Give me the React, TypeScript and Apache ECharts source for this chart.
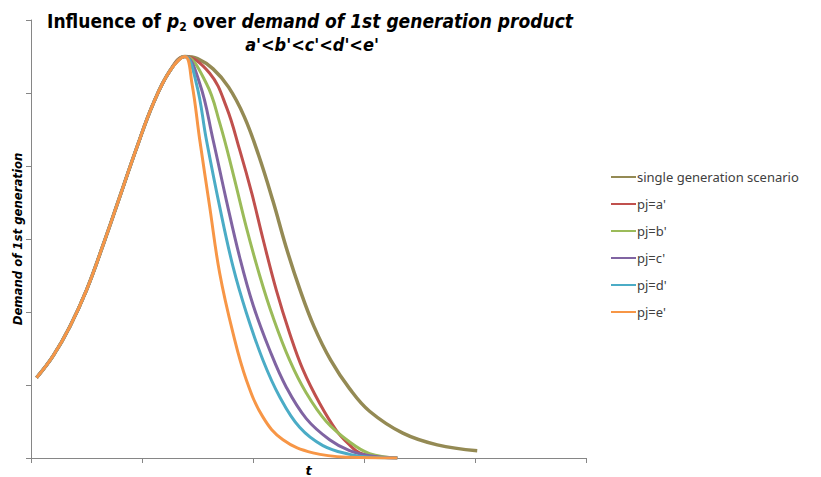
import React, { useEffect, useRef } from "react";
import * as echarts from "echarts";

const seriesNames = [
  "single generation scenario",
  "pj=a'",
  "pj=b'",
  "pj=c'",
  "pj=d'",
  "pj=e'",
];
const seriesColors = ["#948A54", "#C0504D", "#9BBB59", "#8064A2", "#4BACC6", "#F79646"];

// shared rising part (t, demand)
const rising: number[][] = [
  [0.05, 1.1], [0.2, 1.4], [0.35, 1.8], [0.5, 2.3], [0.65, 2.92], [0.8, 3.58],
  [0.95, 4.24], [1.1, 4.85], [1.25, 5.3], [1.387, 5.5],
];

const fallSingle: number[][] = [
  [1.5, 5.47], [1.64, 5.33], [1.78, 5.08], [1.92, 4.68], [2.05, 4.15], [2.18, 3.52],
  [2.3, 2.88], [2.42, 2.32], [2.55, 1.8], [2.7, 1.34], [2.87, 0.95], [3.05, 0.64],
  [3.35, 0.34], [3.66, 0.18], [4.02, 0.1],
];
const fallA: number[][] = [
  [1.61, 5.27], [1.76, 4.81], [1.88, 4.22], [1.99, 3.62], [2.09, 3.0], [2.21, 2.3],
  [2.33, 1.71], [2.45, 1.21], [2.6, 0.75], [2.75, 0.38], [2.87, 0.18], [2.96, 0.07],
  [3.15, 0.01], [3.3, 0],
];
const fallB: number[][] = [
  [1.58, 5.13], [1.7, 4.59], [1.82, 3.9], [1.94, 3.16], [2.06, 2.5], [2.18, 1.93],
  [2.33, 1.34], [2.48, 0.89], [2.66, 0.5], [2.87, 0.22], [3.05, 0.06], [3.3, 0],
];
const fallC: number[][] = [
  [1.52, 5.13], [1.64, 4.36], [1.76, 3.53], [1.88, 2.75], [2.0, 2.1], [2.15, 1.48],
  [2.3, 0.97], [2.48, 0.54], [2.69, 0.25], [2.87, 0.1], [3.05, 0.03], [3.3, 0],
];
const fallD: number[][] = [
  [1.49, 5.13], [1.58, 4.36], [1.7, 3.44], [1.82, 2.62], [1.94, 1.99], [2.09, 1.34],
  [2.24, 0.84], [2.42, 0.42], [2.63, 0.17], [2.87, 0.05], [3.05, 0.01], [3.3, 0],
];
const fallE: number[][] = [
  [1.45, 5.13], [1.52, 4.36], [1.61, 3.44], [1.7, 2.53], [1.82, 1.71], [1.94, 1.07],
  [2.09, 0.56], [2.27, 0.25], [2.54, 0.07], [2.87, 0.01], [3.3, 0],
];
const fallParts = [fallSingle, fallA, fallB, fallC, fallD, fallE];

const xTicks = { min: 0, max: 5, interval: 1 };
const yTicks = { min: 0, max: 6, interval: 1 };

export default function App() {
  const ref = useRef<HTMLDivElement>(null);
  useEffect(() => {
    document.body.style.margin = "0";
    const chart = echarts.init(ref.current!, null, { renderer: "svg" });
    const axisColor = "#868686";
    const ff = "DejaVu Sans Condensed";
    chart.setOption({
      animation: false,
      backgroundColor: "#ffffff",
      grid: { left: 31, top: 20, right: 235, bottom: 19, containLabel: false, outerBoundsMode: "none" },
      graphic: [
        {
          type: "text",
          x: 310,
          y: 21,
          style: {
            text: "{n|Influence of }{i|p}{s|2}{n| over }{i|demand of 1st generation product}",
            align: "center",
            verticalAlign: "middle",
            rich: {
              n: { fontFamily: ff, fontWeight: "bold", fontSize: 19, lineHeight: 24, fill: "#000" },
              i: { fontFamily: ff, fontWeight: "bold", fontStyle: "italic", fontSize: 19, lineHeight: 24, fill: "#000" },
              s: { fontFamily: ff, fontWeight: "bold", fontSize: 12, lineHeight: 13, verticalAlign: "bottom", fill: "#000" },
            },
          },
        },
        {
          type: "text",
          x: 312,
          y: 44,
          style: {
            text: "a'<b'<c'<d'<e'",
            align: "center",
            verticalAlign: "middle",
            fontFamily: ff,
            fontWeight: "bold",
            fontStyle: "italic",
            fontSize: 18,
            fill: "#000",
          },
        },
      ],
      legend: {
        orient: "vertical",
        left: 606,
        top: 165,
        icon: "rect",
        itemWidth: 25,
        itemHeight: 2,
        itemGap: 13,
        data: seriesNames,
        textStyle: { fontFamily: "Noto Sans", fontSize: 13, color: "#404040", lineHeight: 14, padding: [0, 0, 0, -4] },
      },
      xAxis: {
        type: "value",
        min: xTicks.min,
        max: xTicks.max,
        interval: xTicks.interval,
        name: "t",
        nameLocation: "middle",
        nameGap: 5,
        nameTextStyle: { fontFamily: "DejaVu Sans", fontWeight: "bold", fontStyle: "italic", fontSize: 13, color: "#000", verticalAlign: "top", lineHeight: 14 },
        axisLine: { show: true, lineStyle: { color: axisColor, width: 1 } },
        axisTick: { show: true, length: 5, lineStyle: { color: axisColor } },
        axisLabel: { show: false },
        splitLine: { show: false },
      },
      yAxis: {
        type: "value",
        min: yTicks.min,
        max: yTicks.max,
        interval: yTicks.interval,
        name: "Demand of 1st generation",
        nameLocation: "middle",
        nameGap: 7,
        nameTextStyle: { fontFamily: ff, fontWeight: "bold", fontStyle: "italic", fontSize: 13, color: "#000" },
        axisLine: { show: true, lineStyle: { color: axisColor, width: 1 } },
        axisTick: { show: true, length: 5, lineStyle: { color: axisColor } },
        axisLabel: { show: false },
        splitLine: { show: false },
      },
      series: seriesNames.map((name, k) => ({
        name,
        type: "line",
        data: [...rising, ...fallParts[k]],
        smooth: 0.4,
        showSymbol: false,
        symbol: "none",
        color: seriesColors[k],
        lineStyle: { color: seriesColors[k], width: k === 0 ? 3.5 : 3 },
        z: 2 + k,
      })),
    });
    return () => chart.dispose();
  }, []);
  return <div ref={ref} style={{ width: 821, height: 477 }} />;
}
